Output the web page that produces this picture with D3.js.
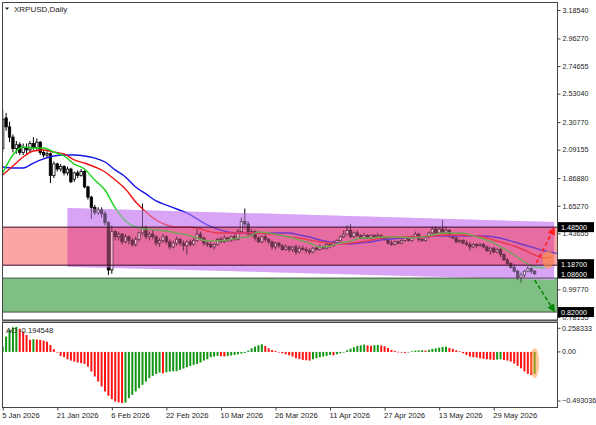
<!DOCTYPE html>
<html>
<head>
<meta charset="utf-8">
<script src="https://d3js.org/d3.v7.min.js"></script>
<style>
  html, body { margin: 0; padding: 0; background: #fff; }
  svg text { font-family: "Liberation Sans", Arial, sans-serif; fill: #222; }
</style>
</head>
<body>
<div id="chart"></div>
<script>
// ---- data (daily bars from 5 Jan 2026) ----
var firstDay = Date.UTC(2026, 0, 5);

var open = [2.10,2.34,2.27,2.19,2.10,2.13,2.07,2.11,2.09,2.14,2.11,2.15,2.07,2.05,2.06,1.89,1.98,1.94,1.96,1.91,
            1.94,1.86,1.91,1.89,1.92,1.80,1.72,1.64,1.60,1.62,1.59,1.52,1.15,1.45,1.41,1.43,1.37,1.41,1.38,1.35,
            1.39,1.44,1.48,1.41,1.43,1.41,1.36,1.38,1.41,1.37,1.33,1.36,1.39,1.36,1.34,1.37,1.35,1.38,1.43,1.40,
            1.36,1.35,1.33,1.35,1.39,1.37,1.40,1.38,1.41,1.39,1.45,1.53,1.51,1.43,1.45,1.40,1.37,1.41,1.39,1.37,
            1.33,1.36,1.34,1.31,1.33,1.31,1.33,1.29,1.32,1.31,1.30,1.29,1.32,1.31,1.33,1.32,1.35,1.34,1.36,1.38,
            1.41,1.43,1.46,1.41,1.44,1.42,1.40,1.42,1.40,1.42,1.41,1.42,1.40,1.39,1.36,1.35,1.37,1.36,1.38,1.40,
            1.38,1.41,1.43,1.39,1.38,1.41,1.44,1.47,1.44,1.47,1.44,1.46,1.42,1.40,1.37,1.38,1.36,1.35,1.33,1.35,
            1.34,1.35,1.33,1.30,1.32,1.29,1.31,1.27,1.23,1.20,1.17,1.14,1.09,1.11,1.14,1.16,1.14];
var high = [2.41,2.38,2.31,2.21,2.16,2.15,2.14,2.14,2.16,2.19,2.18,2.16,2.09,2.08,2.07,2.00,1.99,1.98,1.97,1.96,
            1.95,1.92,1.93,1.94,1.93,1.81,1.73,1.66,1.64,1.64,1.61,1.53,1.50,1.46,1.45,1.44,1.43,1.42,1.40,1.41,
            1.45,1.67,1.50,1.45,1.46,1.42,1.40,1.43,1.42,1.39,1.38,1.41,1.40,1.38,1.38,1.39,1.40,1.47,1.45,1.41,
            1.38,1.37,1.36,1.40,1.41,1.42,1.41,1.42,1.43,1.47,1.56,1.63,1.53,1.47,1.46,1.41,1.42,1.43,1.40,1.38,
            1.37,1.37,1.35,1.35,1.34,1.34,1.35,1.34,1.34,1.33,1.32,1.33,1.34,1.35,1.34,1.36,1.37,1.38,1.39,1.42,
            1.46,1.50,1.51,1.45,1.46,1.43,1.44,1.43,1.43,1.43,1.44,1.43,1.41,1.40,1.38,1.38,1.38,1.39,1.41,1.41,
            1.42,1.45,1.44,1.40,1.42,1.45,1.49,1.49,1.48,1.54,1.49,1.47,1.43,1.41,1.39,1.39,1.38,1.37,1.36,1.36,
            1.36,1.36,1.34,1.33,1.33,1.32,1.32,1.28,1.24,1.21,1.19,1.15,1.13,1.15,1.18,1.17,1.15];
var low  = [2.07,2.24,2.15,2.07,2.06,2.05,2.05,2.06,2.07,2.09,2.08,2.05,2.03,2.03,1.83,1.87,1.92,1.92,1.89,1.89,
            1.83,1.84,1.87,1.88,1.79,1.70,1.55,1.58,1.58,1.56,1.50,1.11,1.12,1.38,1.38,1.35,1.36,1.35,1.33,1.33,
            1.37,1.42,1.39,1.38,1.39,1.34,1.33,1.36,1.35,1.31,1.32,1.34,1.34,1.30,1.27,1.33,1.34,1.37,1.38,1.34,
            1.33,1.32,1.31,1.34,1.36,1.36,1.37,1.37,1.38,1.38,1.44,1.49,1.42,1.41,1.38,1.36,1.36,1.37,1.35,1.31,
            1.31,1.32,1.30,1.30,1.29,1.29,1.27,1.28,1.30,1.28,1.27,1.28,1.30,1.30,1.31,1.31,1.32,1.33,1.35,1.37,
            1.40,1.42,1.40,1.40,1.41,1.39,1.39,1.39,1.39,1.40,1.40,1.39,1.38,1.35,1.34,1.34,1.35,1.35,1.37,1.37,
            1.37,1.40,1.37,1.37,1.37,1.40,1.43,1.43,1.43,1.43,1.43,1.40,1.39,1.36,1.36,1.35,1.34,1.30,1.32,1.32,
            1.33,1.32,1.29,1.27,1.28,1.28,1.25,1.22,1.19,1.16,1.13,1.07,1.05,1.09,1.13,1.12,1.11];
var close = [2.33,2.27,2.19,2.10,2.13,2.07,2.11,2.09,2.14,2.11,2.15,2.07,2.05,2.06,1.89,1.98,1.94,1.96,1.91,1.94,
             1.84,1.91,1.89,1.92,1.80,1.72,1.64,1.60,1.62,1.59,1.52,1.15,1.45,1.41,1.43,1.37,1.41,1.38,1.35,1.39,
             1.44,1.48,1.41,1.43,1.41,1.36,1.38,1.41,1.37,1.33,1.36,1.39,1.36,1.34,1.37,1.35,1.38,1.43,1.40,1.36,
             1.35,1.33,1.35,1.39,1.37,1.40,1.38,1.41,1.39,1.45,1.53,1.51,1.43,1.45,1.40,1.37,1.41,1.39,1.37,1.33,
             1.36,1.34,1.31,1.33,1.31,1.33,1.29,1.32,1.31,1.30,1.29,1.32,1.31,1.33,1.32,1.35,1.34,1.36,1.38,1.41,
             1.43,1.46,1.41,1.44,1.42,1.40,1.42,1.40,1.42,1.41,1.42,1.40,1.39,1.36,1.35,1.37,1.36,1.38,1.40,1.38,
             1.41,1.43,1.39,1.38,1.41,1.44,1.47,1.44,1.47,1.44,1.46,1.42,1.40,1.37,1.38,1.36,1.35,1.33,1.35,1.34,
             1.35,1.33,1.30,1.32,1.29,1.31,1.27,1.23,1.20,1.17,1.14,1.09,1.11,1.14,1.16,1.14,1.12];

// Alligator lines as [day, price]
var lipsLine = [[0,1.909],[3,2.050],[6,2.113],[9,2.105],[12,2.105],[15,2.073],[18,2.042],[21,1.979],[24,1.940],
  [27,1.854],[30,1.776],[33,1.635],[36,1.533],[39,1.486],[42,1.470],[45,1.463],[48,1.455],[51,1.439],[54,1.423],
  [57,1.400],[60,1.376],[63,1.376],[66,1.384],[69,1.400],[72,1.408],[75,1.447],[78,1.439],[81,1.423],[84,1.408],
  [87,1.384],[90,1.361],[93,1.329],[96,1.337],[99,1.361],[102,1.376],[105,1.400],[108,1.400],[111,1.408],
  [114,1.408],[117,1.408],[120,1.400],[123,1.408],[126,1.423],[129,1.439],[132,1.439],[135,1.439],[138,1.416],
  [141,1.392],[144,1.361],[147,1.314],[150,1.267],[153,1.212],[156,1.173],[159,1.165]];
var teethLine = [[0,1.893],[3,1.964],[6,2.034],[9,2.081],[12,2.089],[15,2.073],[18,2.058],[21,2.011],[24,1.987],
  [27,1.956],[30,1.917],[33,1.854],[36,1.784],[39,1.682],[42,1.604],[45,1.541],[48,1.502],[51,1.486],[54,1.486],
  [57,1.478],[60,1.455],[63,1.439],[66,1.439],[69,1.439],[72,1.439],[75,1.439],[78,1.431],[81,1.423],[84,1.408],
  [87,1.400],[90,1.384],[93,1.369],[96,1.361],[99,1.353],[102,1.361],[105,1.369],[108,1.384],[111,1.400],
  [114,1.408],[117,1.408],[120,1.408],[123,1.408],[126,1.416],[129,1.423],[132,1.423],[135,1.423],[138,1.416],
  [141,1.408],[144,1.384],[147,1.361],[150,1.337],[153,1.306],[156,1.267],[159,1.243],[161,1.251]];
var jawLine = [[0,1.956],[3,1.948],[6,1.948],[9,1.987],[12,2.019],[15,2.042],[18,2.050],[21,2.050],[24,2.042],
  [27,2.026],[30,1.995],[33,1.933],[36,1.878],[39,1.799],[42,1.745],[45,1.690],[48,1.658],[51,1.627],[54,1.596],
  [57,1.549],[60,1.502],[63,1.470],[66,1.447],[69,1.439],[72,1.439],[75,1.439],[78,1.439],[81,1.439],[84,1.439],
  [87,1.423],[90,1.408],[93,1.384],[96,1.369],[99,1.361],[102,1.353],[105,1.361],[108,1.369],[111,1.384],
  [114,1.392],[117,1.400],[120,1.408],[123,1.408],[126,1.416],[129,1.416],[132,1.416],[135,1.416],[138,1.416],
  [141,1.416],[144,1.408],[147,1.392],[150,1.369],[153,1.345],[156,1.322],[159,1.298],[162,1.282],[164,1.275]];

// Awesome Oscillator, one value per bar
var aoValues = [0.047,0.136,0.195,0.218,0.222,0.205,0.180,0.150,0.108,0.112,0.110,0.106,0.100,0.091,0.062,0.024,-0.003,
  -0.035,-0.047,-0.065,-0.077,-0.086,-0.094,-0.100,-0.106,-0.130,-0.174,-0.218,-0.263,-0.307,-0.351,-0.389,-0.419,
  -0.440,-0.448,-0.454,-0.450,-0.410,-0.381,-0.351,-0.322,-0.292,-0.263,-0.233,-0.212,-0.195,-0.183,-0.189,-0.180,
  -0.174,-0.172,-0.171,-0.159,-0.147,-0.136,-0.124,-0.115,-0.106,-0.094,-0.077,-0.065,-0.047,-0.041,-0.035,-0.038,
  -0.041,-0.036,-0.032,-0.027,-0.021,-0.015,-0.009,0.012,0.032,0.047,0.059,0.068,0.053,0.032,0.018,0.009,0.000,
  -0.012,-0.021,-0.030,-0.041,-0.056,-0.062,-0.071,-0.074,-0.077,-0.065,-0.056,-0.047,-0.041,-0.035,-0.027,-0.030,
  -0.021,-0.012,0.000,0.015,0.029,0.041,0.053,0.059,0.065,0.058,0.055,0.060,0.062,0.057,0.050,0.035,0.018,0.009,
  0.001,-0.006,-0.009,-0.003,0.006,0.012,0.013,0.015,0.012,0.018,0.027,0.032,0.038,0.044,0.047,0.035,0.027,0.015,
  0.006,-0.012,-0.027,-0.041,-0.047,-0.050,-0.056,-0.062,-0.065,-0.068,-0.071,-0.068,-0.065,-0.071,-0.077,-0.086,
  -0.103,-0.124,-0.145,-0.174,-0.195,-0.204,-0.1945];

// price axis ticks and marked levels
var priceTicks = [3.18540, 2.96270, 2.74655, 2.53040, 2.30770, 2.09155, 1.86880, 1.65270, 1.43655, 0.99770, 0.78155];
var levelPrices = [1.48500, 1.18700, 1.08600, 0.82000];
var aoTicks = [0.258333, 0.00, -0.493036];
var dateTicks = ["2026-01-05","2026-01-21","2026-02-06","2026-02-22","2026-03-10","2026-03-26",
                 "2026-04-11","2026-04-27","2026-05-13","2026-05-29"];

// zones
var resistBand = [1.187, 1.485];
var supportBand = [0.82, 1.086];
var channelDays = [19, 161.7];
var channelTop = [1.635, 1.525];
var channelBottom = [1.175, 1.0716];
var upArrow = [[156.5, 1.205], [161.7, 1.475]];
var downArrow = [[156, 1.07], [161.7, 0.83]];

// ---- layout ----
var width = 596, height = 425;
var left = 2, right = 557;
var mainTop = 3, mainBottom = 320;
var aoTop = 322, aoBottom = 407.5;
var dayMs = 86400000;
function dayDate(d) { return new Date(firstDay + d * dayMs); }

var x = d3.scaleUtc()
    .domain([dayDate(0), dayDate(160)])
    .range([2.7, 2.7 + 160 * 3.41]);
var y = d3.scaleLinear().domain([0.7578, 3.2402]).range([mainBottom, mainTop]);
var yAo = d3.scaleLinear().domain([-0.493036, 0.258333]).range([aoBottom, aoTop + 0.8]);

var svg = d3.select("#chart").append("svg")
    .attr("width", width).attr("height", height);

var defs = svg.append("defs");
defs.append("clipPath").attr("id", "clipMain").append("rect")
    .attr("x", left).attr("y", mainTop).attr("width", right - left).attr("height", mainBottom - mainTop);
defs.append("clipPath").attr("id", "clipAo").append("rect")
    .attr("x", left).attr("y", aoTop).attr("width", right - left).attr("height", aoBottom - aoTop);
[["arrRed", "#ff2020"], ["arrGreen", "#0a8a0a"]].forEach(function(m) {
    defs.append("marker").attr("id", m[0]).attr("viewBox", "0 0 10 10")
        .attr("refX", 8).attr("refY", 5).attr("markerWidth", 5).attr("markerHeight", 5)
        .attr("orient", "auto")
        .append("path").attr("d", "M0,0L10,5L0,10z").attr("fill", m[1]);
});

var main = svg.append("g").attr("clip-path", "url(#clipMain)");

function drawZones(g, alpha) {
    g.attr("opacity", alpha);
    g.append("rect")
        .attr("x", left).attr("width", right - left)
        .attr("y", y(supportBand[1])).attr("height", y(supportBand[0]) - y(supportBand[1]))
        .attr("fill", "#7fbf84");
    g.append("rect")
        .attr("x", left).attr("width", right - left)
        .attr("y", y(resistBand[1])).attr("height", y(resistBand[0]) - y(resistBand[1]))
        .attr("fill", "#fba4a4");
    var poly = [
        [x(dayDate(channelDays[0])), y(channelTop[0])],
        [x(dayDate(channelDays[1])), y(channelTop[1])],
        [x(dayDate(channelDays[1])), y(channelBottom[1])],
        [x(dayDate(channelDays[0])), y(channelBottom[0])]
    ];
    g.append("path").attr("d", "M" + poly.join("L") + "Z").attr("fill", "#d9a4f6");
    g.append("rect")
        .attr("x", x(dayDate(channelDays[0])))
        .attr("width", x(dayDate(channelDays[1])) - x(dayDate(channelDays[0])))
        .attr("y", y(resistBand[1])).attr("height", y(resistBand[0]) - y(resistBand[1]))
        .attr("fill", "#e66ca2");
}

drawZones(main.append("g"), 1);

// candles
var bars = d3.range(close.length);
var candles = main.append("g");
candles.selectAll("line").data(bars).enter().append("line")
    .attr("x1", function(i) { return x(dayDate(i)); })
    .attr("x2", function(i) { return x(dayDate(i)); })
    .attr("y1", function(i) { return y(high[i]); })
    .attr("y2", function(i) { return y(low[i]); })
    .attr("stroke", "#000").attr("stroke-width", 1);
candles.selectAll("rect").data(bars).enter().append("rect")
    .attr("x", function(i) { return x(dayDate(i)) - 1.2; })
    .attr("width", 2.4)
    .attr("y", function(i) { return y(Math.max(open[i], close[i])); })
    .attr("height", function(i) { return Math.max(1, Math.abs(y(open[i]) - y(close[i]))); })
    .attr("fill", function(i) { return close[i] >= open[i] ? "#fff" : "#000"; })
    .attr("stroke", "#000").attr("stroke-width", 0.8);

// alligator
var line = d3.line()
    .x(function(d) { return x(dayDate(d[0])); })
    .y(function(d) { return y(d[1]); })
    .curve(d3.curveMonotoneX);
[[jawLine, "#1414e6"], [teethLine, "#ee1010"], [lipsLine, "#18d418"]].forEach(function(s) {
    main.append("path").datum(s[0]).attr("d", line)
        .attr("fill", "none").attr("stroke", s[1]).attr("stroke-width", 1.4);
});

// zones again, see-through, so candles and lines take on their tint
drawZones(main.append("g"), 0.45);

// zone borders
[resistBand[0], resistBand[1]].forEach(function(p) {
    main.append("line").attr("x1", left).attr("x2", right)
        .attr("y1", y(p)).attr("y2", y(p)).attr("stroke", "#3a0a28").attr("stroke-width", 1);
});
[supportBand[0], supportBand[1]].forEach(function(p) {
    main.append("line").attr("x1", left).attr("x2", right)
        .attr("y1", y(p)).attr("y2", y(p)).attr("stroke", "#445544").attr("stroke-width", 1);
});

// highlight and arrows
main.append("ellipse")
    .attr("cx", x(dayDate(160))).attr("cy", y(1.23)).attr("rx", 6).attr("ry", 9)
    .attr("fill", "#ff9a40").attr("opacity", 0.6);
function arrow(pts, col, marker) {
    main.append("line")
        .attr("x1", x(dayDate(pts[0][0]))).attr("y1", y(pts[0][1]))
        .attr("x2", x(dayDate(pts[1][0]))).attr("y2", y(pts[1][1]))
        .attr("stroke", col).attr("stroke-width", 1.6).attr("stroke-dasharray", "4,2.5")
        .attr("marker-end", "url(#" + marker + ")");
}
arrow(upArrow, "#ff2020", "arrRed");
arrow(downArrow, "#0a8a0a", "arrGreen");

// ---- AO panel ----
var ao = svg.append("g").attr("clip-path", "url(#clipAo)");
ao.selectAll("rect").data(aoValues).enter().append("rect")
    .attr("x", function(v, i) { return x(dayDate(i)) - 1; })
    .attr("width", 2)
    .attr("y", function(v) { return Math.min(yAo(v), yAo(0)); })
    .attr("height", function(v) { return Math.max(0.6, Math.abs(yAo(v) - yAo(0))); })
    .attr("fill", function(v, i) { return (i === 0 || v > aoValues[i - 1]) ? "#139613" : "#ff1414"; });
ao.append("ellipse")
    .attr("cx", x(dayDate(156))).attr("cy", yAo(-0.10)).attr("rx", 4.5).attr("ry", 15)
    .attr("fill", "#ff9a40").attr("opacity", 0.55);

// ---- frames ----
var frame = svg.append("g").attr("stroke", "#444").attr("fill", "none");
frame.append("rect").attr("x", left + 0.5).attr("y", mainTop - 0.5)
    .attr("width", right - left).attr("height", mainBottom - mainTop + 0.5);
frame.append("rect").attr("x", left + 0.5).attr("y", aoTop + 0.5)
    .attr("width", right - left).attr("height", aoBottom - aoTop - 0.5);
svg.append("line").attr("x1", left).attr("x2", right + 1)
    .attr("y1", mainBottom + 0.8).attr("y2", mainBottom + 0.8).attr("stroke", "#555").attr("stroke-width", 1.5);

// ---- price axis ----
var yAxis = d3.axisRight(y).tickValues(priceTicks).tickSize(3).tickPadding(2)
    .tickFormat(d3.format(".5f"));
var ya = svg.append("g").attr("transform", "translate(" + (right + 0.5) + ",0)").call(yAxis);
ya.select(".domain").remove();
ya.selectAll("line").attr("stroke", "#444");
ya.selectAll("text").attr("font-size", 7.2).attr("fill", "#222");

// price marker hidden between the level labels
svg.append("rect").attr("x", 558).attr("y", y(1.16) - 4).attr("width", 36).attr("height", 10).attr("fill", "#000");

var levelShift = [0, -1, -4.5, 0];
levelPrices.forEach(function(p, k) {
    var g = svg.append("g").attr("transform", "translate(558," + (y(p) + levelShift[k]) + ")");
    g.append("rect").attr("x", 0).attr("y", -5).attr("width", 36).attr("height", 10).attr("fill", "#000");
    g.append("text").attr("x", 3).attr("y", 3).attr("font-size", 7.2).style("fill", "#fff")
        .text(d3.format(".5f")(p));
});

// ---- AO axis ----
var aoShift = [5.5, 0, -6.5];
aoTicks.forEach(function(v, k) {
    svg.append("line").attr("x1", right + 0.5).attr("x2", right + 3.5)
        .attr("y1", yAo(v) + aoShift[k]).attr("y2", yAo(v) + aoShift[k]).attr("stroke", "#444");
    svg.append("text").attr("x", right + 5).attr("y", yAo(v) + aoShift[k]).attr("dy", "0.32em")
        .attr("font-size", 7.2).text(v === 0 ? "0.00" : d3.format(".6f")(v));
});

// ---- date axis ----
var xAxis = d3.axisBottom(x)
    .tickValues(dateTicks.map(function(s) { return new Date(s + "T00:00:00Z"); }))
    .tickFormat(d3.utcFormat("%-d %b %Y")).tickSize(3).tickPadding(2);
var xa = svg.append("g").attr("transform", "translate(0," + aoBottom + ")").call(xAxis);
xa.select(".domain").remove();
xa.selectAll("line").attr("stroke", "#444");
xa.selectAll("text").attr("font-size", 7.6).attr("text-anchor", "start").attr("x", -1).attr("fill", "#222");

// ---- titles ----
svg.append("path").attr("d", "M5,7.5L9,7.5L7,10Z").attr("fill", "#222");
svg.append("text").attr("x", 14).attr("y", 12).attr("font-size", 8).text("XRPUSD,Daily");
svg.append("text").attr("x", 6).attr("y", 333).attr("font-size", 7.6).text("AO -0.194548");
</script>
</body>
</html>
